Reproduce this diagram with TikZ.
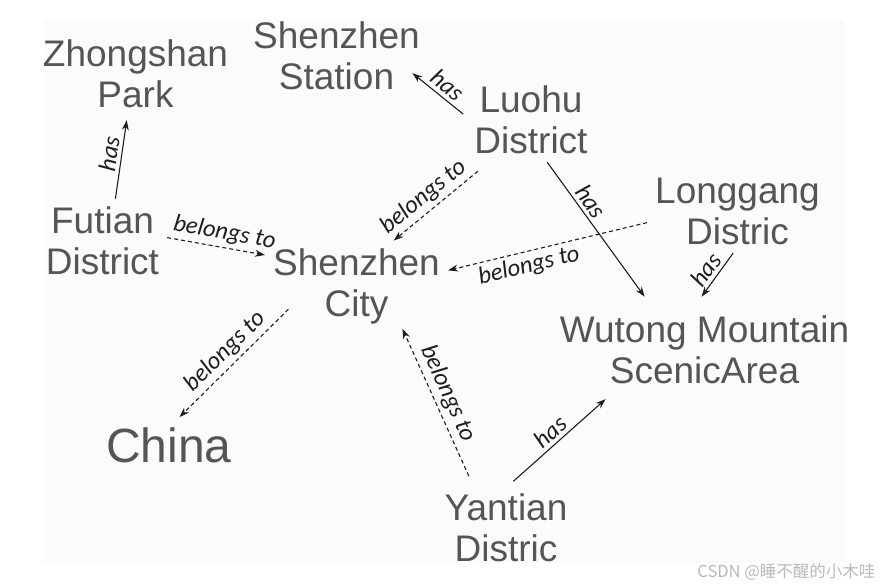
\documentclass[tikz,border=0pt]{standalone}
\usepackage{fontspec}
\setmainfont{Liberation Sans}
\newfontfamily\relfont{Carlito}
\newfontfamily\cjkfont{Noto Sans CJK SC}
\usetikzlibrary{arrows.meta}
\definecolor{entityColor}{HTML}{555555}
\definecolor{relColor}{HTML}{1E1E1E}
\definecolor{paperColor}{HTML}{FBFBFB}

\begin{document}
\begin{tikzpicture}[x=1pt, y=-1pt,
    entity/.style={text=entityColor, align=center, inner sep=8pt, font=\fontsize{37}{41}\selectfont},
    rel/.style={relColor, line width=1.1pt, -{Stealth[length=10pt,width=7pt]}},
    hasrel/.style={rel},
    belongsrel/.style={rel, dash pattern=on 4pt off 3pt},
    lbl/.style={text=relColor, font=\relfont\itshape\fontsize{24.5}{24.5}\selectfont, sloped, above, inner sep=3.5pt}]
    \useasboundingbox (0,0) rectangle (882,587);
    \fill[paperColor] (44,20) rectangle (845,563);
    % entities
    \node[entity] (zhongshan) at (135.5,74) {Zhongshan\\Park};
    \node[entity] (station) at (336.5,56) {Shenzhen\\Station};
    \node[entity] (luohu) at (531,120) {Luohu\\District};
    \node[entity] (futian) at (102.5,241) {Futian\\District};
    \node[entity] (city) at (356.5,286.5) {Shenzhen\\City};
    \node[entity] (longgang) at (737.5,211.5) {Longgang\\Distric};
    \node[entity] (wutong) at (704.5,349.5) {Wutong Mountain\\ScenicArea};
    \node[entity, font=\fontsize{48}{48}\selectfont] (china) at (169,445) {China};
    \node[entity] (yantian) at (506,527.5) {Yantian\\Distric};
    % relations
    \draw[hasrel, shorten >=4pt] (futian.73) -- (zhongshan.-101) node[lbl, pos=0.52] {has};
    \draw[hasrel, shorten <=4pt, shorten >=-20pt] (luohu.177) -- (station.-18) node[lbl, pos=0.7] {has};
    \draw[belongsrel, shorten <=14pt] (luohu.-135) -- (city.51) node[lbl, pos=0.59] {belongs to};
    \draw[hasrel, shorten >=13pt] (luohu.-69) -- (wutong.141) node[lbl, pos=0.32] {has};
    \draw[belongsrel] (longgang.-173) -- (city.10) node[lbl, below, pos=0.61] {belongs to};
    \draw[hasrel, shorten >=13pt] (longgang.-96) -- (wutong.104) node[lbl, pos=0.44] {has};
    \draw[belongsrel] (futian.3) -- (city.161) node[lbl, pos=0.56] {belongs to};
    \draw[belongsrel, shorten <=-33pt, shorten >=3pt] (city.south west) -- (china.72) node[lbl, pos=0.34] {belongs to};
    \draw[belongsrel, shorten <=10pt, shorten >=-4pt] (yantian.128) -- (city.-44) node[lbl, pos=0.56] {belongs to};
    \draw[hasrel, shorten <=6pt, shorten >=11pt] (yantian.86.5) -- (wutong.-155) node[lbl, pos=0.47] {has};
    \node[text=gray!55, font=\cjkfont\fontsize{16.5}{16.5}\selectfont, anchor=east] (mark) at (879,572) {CSDN @睡不醒的小木哇};
\end{tikzpicture}
\end{document}
